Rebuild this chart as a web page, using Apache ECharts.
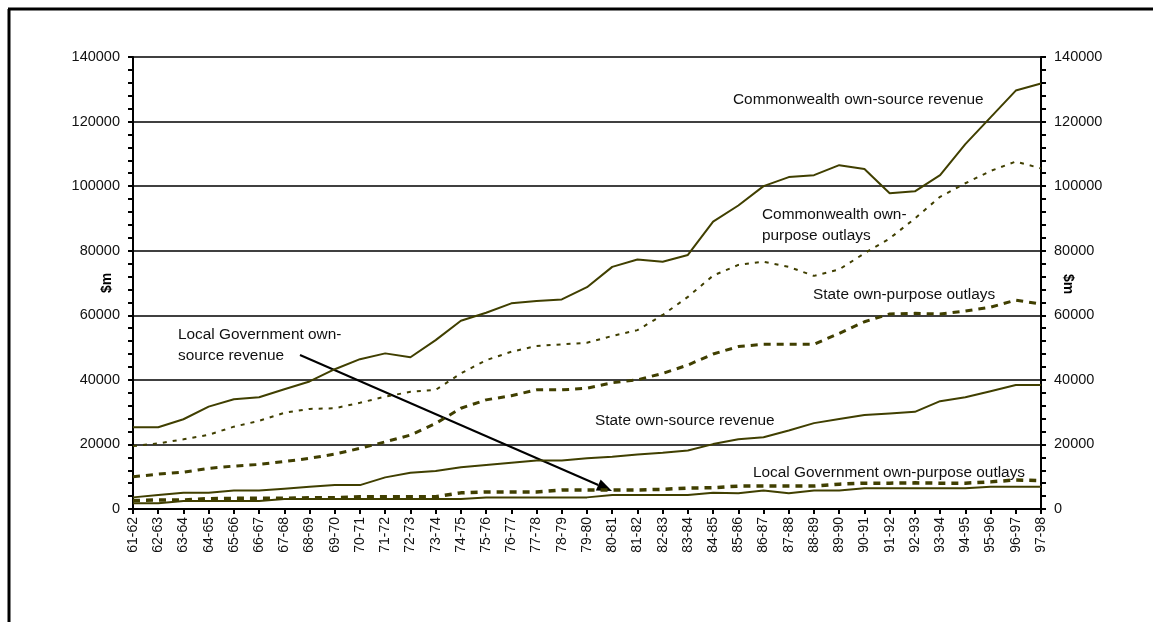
<!DOCTYPE html>
<html>
<head>
<meta charset="utf-8">
<script src="https://cdn.jsdelivr.net/npm/echarts@6/dist/echarts.min.js"></script>
<style>
  html, body { margin: 0; padding: 0; background: #fff; }
  #main { width: 1153px; height: 622px; }
</style>
</head>
<body>
<div id="main"></div>
<script>
// 年度类目
var years = ['61-62', '62-63', '63-64', '64-65', '65-66', '66-67', '67-68', '68-69', '69-70', '70-71',
  '71-72', '72-73', '73-74', '74-75', '75-76', '76-77', '77-78', '78-79', '79-80', '80-81',
  '81-82', '82-83', '83-84', '84-85', '85-86', '86-87', '87-88', '88-89', '89-90', '90-91',
  '91-92', '92-93', '93-94', '94-95', '95-96', '96-97', '97-98'];

var yTicks = [0, 20000, 40000, 60000, 80000, 100000, 120000, 140000];

// $m
var cwthRevenue = [25300, 25300, 27800, 31700, 34000, 34600, 37100, 39500, 43300, 46400,
  48200, 47000, 52300, 58300, 60800, 63700, 64400, 64900, 68700, 75000,
  77300, 76600, 78700, 89000, 94000, 100000, 102800, 103400, 106500, 105300,
  97800, 98400, 103400, 113000, 121300, 129600, 131800];
var cwthOutlays = [19500, 20300, 21600, 23000, 25500, 27300, 29800, 31000, 31200, 32900,
  34800, 36300, 36900, 42000, 46100, 48700, 50500, 51000, 51500, 53600,
  55400, 60100, 65700, 72300, 75600, 76600, 75000, 72200, 74200, 79200,
  83800, 90000, 96700, 100900, 104700, 107600, 105500];
var stateOutlays = [10000, 10800, 11400, 12600, 13300, 13800, 14700, 15700, 17000, 18800,
  20800, 22900, 26500, 31200, 33800, 35100, 36900, 36900, 37400, 39100,
  40000, 42000, 44600, 48000, 50300, 51000, 51000, 51000, 54400, 58000,
  60400, 60600, 60400, 61300, 62500, 64700, 63500];
var stateRevenue = [3600, 4300, 5000, 5000, 5700, 5700, 6300, 6900, 7400, 7400,
  9800, 11200, 11800, 12900, 13600, 14300, 15000, 15000, 15700, 16200,
  16900, 17400, 18100, 20100, 21600, 22200, 24300, 26600, 27900, 29100,
  29600, 30100, 33400, 34600, 36500, 38400, 38400];
var localOutlays = [2600, 2800, 2800, 3200, 3300, 3300, 3300, 3500, 3500, 3800,
  3800, 3800, 3800, 5000, 5300, 5300, 5300, 5900, 5900, 5900,
  5900, 6100, 6500, 6600, 7100, 7100, 7100, 7100, 7700, 8000,
  8000, 8100, 8000, 8000, 8400, 9000, 8800];
var localRevenue = [1800, 1800, 2500, 2500, 2500, 2500, 3100, 3100, 3100, 3100,
  3100, 3100, 3100, 3100, 3600, 3600, 3600, 3600, 3600, 4300,
  4300, 4300, 4300, 5000, 4900, 5700, 4900, 5700, 5700, 6400,
  6400, 6400, 6400, 6400, 6900, 6900, 6900];

var lineColor = '#403f00';
var font = '"Liberation Sans", Arial, sans-serif';

function makeLine(name, data, width, dash) {
  return {
    name: name,
    type: 'line',
    data: data,
    symbol: 'none',
    animation: false,
    lineStyle: { color: lineColor, width: width, type: dash }
  };
}

function label(x, y, text) {
  return {
    type: 'text',
    left: x,
    top: y - 9,
    style: { text: text, font: '15.4px ' + font, fill: '#111', lineHeight: 21 }
  };
}

// 轴标题 $m（位于刻度标签之间）
function axisTitle(x, y, rot) {
  return {
    type: 'text',
    x: x,
    y: y,
    rotation: rot,
    style: { text: '$m', font: 'bold 14px ' + font, fill: '#000', align: 'center', verticalAlign: 'middle' }
  };
}

function valueAxis(pos) {
  return {
    type: 'value',
    position: pos,
    min: yTicks[0],
    max: yTicks[yTicks.length - 1],
    interval: yTicks[1] - yTicks[0],
    axisLine: { show: true, lineStyle: { color: '#000', width: 2 } },
    axisTick: { show: true, length: 5, lineStyle: { color: '#000', width: 2 } },
    minorTick: { show: true, splitNumber: 5, length: 5, lineStyle: { color: '#000', width: 2 } },
    axisLabel: {
      fontFamily: font, fontSize: 14.5, color: '#111', margin: 13,
      formatter: function (v) { return String(v); }
    },
    splitLine: { show: pos === 'left', lineStyle: { color: '#000', width: 1.5 } }
  };
}

var myChart = echarts.init(document.getElementById('main'));

// 箭头：从 Local Government own-source revenue 文字指向曲线
var ax0 = 300, ay0 = 355, ax1 = 612, ay1 = 491;
var ang = Math.atan2(ay1 - ay0, ax1 - ax0);
var headLen = 15, headW = 6;
var bx = ax1 - headLen * Math.cos(ang), by = ay1 - headLen * Math.sin(ang);
var arrowHead = [
  [ax1, ay1],
  [bx + headW * Math.sin(ang), by - headW * Math.cos(ang)],
  [bx - headW * Math.sin(ang), by + headW * Math.cos(ang)]
];

myChart.setOption({
  backgroundColor: '#fff',
  animation: false,
  grid: { left: 133, right: 112, top: 57, bottom: 113 },
  xAxis: {
    type: 'category',
    data: years,
    boundaryGap: false,
    axisLine: { lineStyle: { color: '#000', width: 2 } },
    axisTick: { show: true, length: 5, alignWithLabel: true, lineStyle: { color: '#000', width: 2 } },
    axisLabel: { rotate: 90, interval: 0, fontFamily: font, fontSize: 14, color: '#111', margin: 8 },
    splitLine: { show: false }
  },
  yAxis: [valueAxis('left'), valueAxis('right')],
  series: [
    makeLine('Commonwealth own-source revenue', cwthRevenue, 2, 'solid'),
    makeLine('Commonwealth own-purpose outlays', cwthOutlays, 2, [4, 6]),
    makeLine('State own-purpose outlays', stateOutlays, 3, [7, 6]),
    makeLine('State own-source revenue', stateRevenue, 2, 'solid'),
    makeLine('Local Government own-purpose outlays', localOutlays, 3.5, [7, 6]),
    makeLine('Local Government own-source revenue', localRevenue, 2, 'solid')
  ],
  graphic: [
    // 外框（左、上）
    { type: 'line', shape: { x1: 9, y1: 9, x2: 9, y2: 622 }, style: { stroke: '#000', lineWidth: 3 } },
    { type: 'line', shape: { x1: 8, y1: 9, x2: 1153, y2: 9 }, style: { stroke: '#000', lineWidth: 3 } },
    axisTitle(107, 283, Math.PI / 2),
    axisTitle(1068, 284, -Math.PI / 2),
    label(733, 98, 'Commonwealth own-source revenue'),
    label(762, 213, 'Commonwealth own-\npurpose outlays'),
    label(813, 293, 'State own-purpose outlays'),
    label(178, 333, 'Local Government own-\nsource revenue'),
    label(595, 419, 'State own-source revenue'),
    label(753, 471, 'Local Government own-purpose outlays'),
    { type: 'line', shape: { x1: ax0, y1: ay0, x2: bx, y2: by }, style: { stroke: '#000', lineWidth: 2 } },
    { type: 'polygon', shape: { points: arrowHead }, style: { fill: '#000' } }
  ]
});
</script>
</body>
</html>
